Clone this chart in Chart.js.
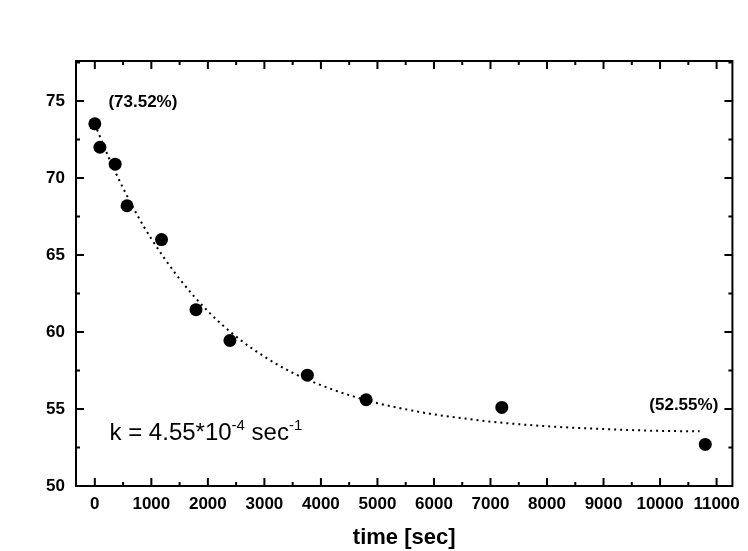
<!DOCTYPE html>
<html>
<head>
<meta charset="utf-8">
<script src="https://cdn.jsdelivr.net/npm/chart.js@4.4.0/dist/chart.umd.min.js"></script>
<style>
  html, body { margin: 0; padding: 0; background: #fff; }
</style>
</head>
<body>
<canvas id="myChart" width="748" height="551"></canvas>
<script>
// measured points (time in sec, value in %)
const timeSec = [0, 90, 360, 570, 1180, 1790, 2390, 3760, 4800, 7200, 10800];
const percent = [73.52, 72.0, 70.9, 68.2, 66.0, 61.45, 59.45, 57.2, 55.6, 55.1, 52.7];

// dotted fitted curve
const fitTime = [0, 250, 500, 750, 1000, 1500, 2000, 2500, 3000, 3500, 4000, 4500, 5000, 5500, 6000, 6500, 7000, 8000, 9000, 10000, 10700];
const fitValue = [73.5, 71.3, 69.35, 67.6, 66.05, 63.45, 61.35, 59.7, 58.4, 57.35, 56.55, 55.9, 55.38, 54.98, 54.65, 54.4, 54.18, 53.88, 53.7, 53.58, 53.55];

const xTicks = [0, 1000, 2000, 3000, 4000, 5000, 6000, 7000, 8000, 9000, 10000, 11000];
const yTicks = [50, 55, 60, 65, 70, 75];

const startLabel = '(73.52%)';
const endLabel = '(52.55%)';
const xTitle = 'time [sec]';

const FONT = '"Liberation Sans", Arial, Helvetica, sans-serif';

const points = timeSec.map((t, i) => ({ x: t, y: percent[i] }));
const fit = fitTime.map((t, i) => ({ x: t, y: fitValue[i] }));

// box frame with inward ticks on all four sides, plus the text notes
const frameTicks = {
    id: 'frameTicks',
    afterDraw(chart) {
        const ctx = chart.ctx;
        const a = chart.chartArea;
        const x = chart.scales.x;
        const y = chart.scales.y;
        ctx.save();
        ctx.strokeStyle = '#000';
        ctx.lineWidth = 2;
        ctx.strokeRect(a.left, a.top, a.right - a.left, a.bottom - a.top);
        ctx.beginPath();
        for (let v = 0; v <= 11000; v += 500) {
            const px = x.getPixelForValue(v);
            const len = v % 1000 === 0 ? 8 : 4;
            ctx.moveTo(px, a.bottom); ctx.lineTo(px, a.bottom - len);
            ctx.moveTo(px, a.top); ctx.lineTo(px, a.top + len);
        }
        for (let v = 50; v <= 77.5; v += 2.5) {
            const py = y.getPixelForValue(v);
            const len = v % 5 === 0 ? 8 : 4;
            ctx.moveTo(a.left, py); ctx.lineTo(a.left + len, py);
            ctx.moveTo(a.right, py); ctx.lineTo(a.right - len, py);
        }
        ctx.stroke();

        // notes
        ctx.fillStyle = '#000';
        ctx.textBaseline = 'alphabetic';
        ctx.font = 'bold 17px ' + FONT;
        ctx.textAlign = 'center';
        ctx.fillText(startLabel, x.getPixelForValue(850), y.getPixelForValue(75) + 6);
        ctx.textAlign = 'right';
        ctx.fillText(endLabel, x.getPixelForValue(11030), y.getPixelForValue(55) + 1);

        // k = 4.55*10^-4 sec^-1
        let kx = x.getPixelForValue(260);
        const ky = y.getPixelForValue(53.0);
        ctx.textAlign = 'left';
        const big = '24px ' + FONT;
        const small = '15px ' + FONT;
        const parts = [['k = 4.55*10', big, 0], ['-4', small, -10], [' sec', big, 0], ['-1', small, -10]];
        parts.forEach(p => {
            ctx.font = p[1];
            ctx.fillText(p[0], kx, ky + p[2]);
            kx += ctx.measureText(p[0]).width;
        });
        ctx.restore();
    }
};

new Chart('myChart', {
    type: 'scatter',
    data: {
        datasets: [{
            label: 'data',
            data: points,
            pointRadius: 6.5,
            pointHoverRadius: 6.5,
            backgroundColor: '#000',
            borderColor: '#000',
            borderWidth: 0
        }, {
            label: 'fit',
            data: fit,
            showLine: true,
            pointRadius: 0,
            borderColor: '#000',
            borderWidth: 2,
            borderDash: [2, 4],
            cubicInterpolationMode: 'monotone',
            fill: false
        }]
    },
    options: {
        responsive: false,
        animation: false,
        layout: { padding: { left: 0, top: 61, right: 10, bottom: 0 } },
        plugins: {
            legend: { display: false },
            tooltip: { enabled: false }
        },
        scales: {
            x: {
                type: 'linear',
                min: -333,
                max: 11280,
                grid: { display: false, tickLength: 0 },
                border: { display: false },
                afterBuildTicks: s => { s.ticks = xTicks.map(v => ({ value: v })); },
                afterFit: s => { s.height = 65; },
                ticks: {
                    color: '#000',
                    padding: 8,
                    maxRotation: 0,
                    autoSkip: false,
                    callback: v => String(v),
                    font: { family: FONT, size: 17, weight: 'bold' }
                },
                title: {
                    display: true,
                    text: xTitle,
                    color: '#000',
                    padding: { top: 0, bottom: 0 },
                    font: { family: FONT, size: 22, weight: 'bold' }
                }
            },
            y: {
                min: 50,
                max: 77.6,
                grid: { display: false, tickLength: 0 },
                border: { display: false },
                afterBuildTicks: s => { s.ticks = yTicks.map(v => ({ value: v })); },
                afterFit: s => { s.width = 76; },
                ticks: {
                    color: '#000',
                    padding: 11,
                    callback: v => String(v),
                    font: { family: FONT, size: 17, weight: 'bold' }
                }
            }
        }
    },
    plugins: [frameTicks]
});
</script>
</body>
</html>
